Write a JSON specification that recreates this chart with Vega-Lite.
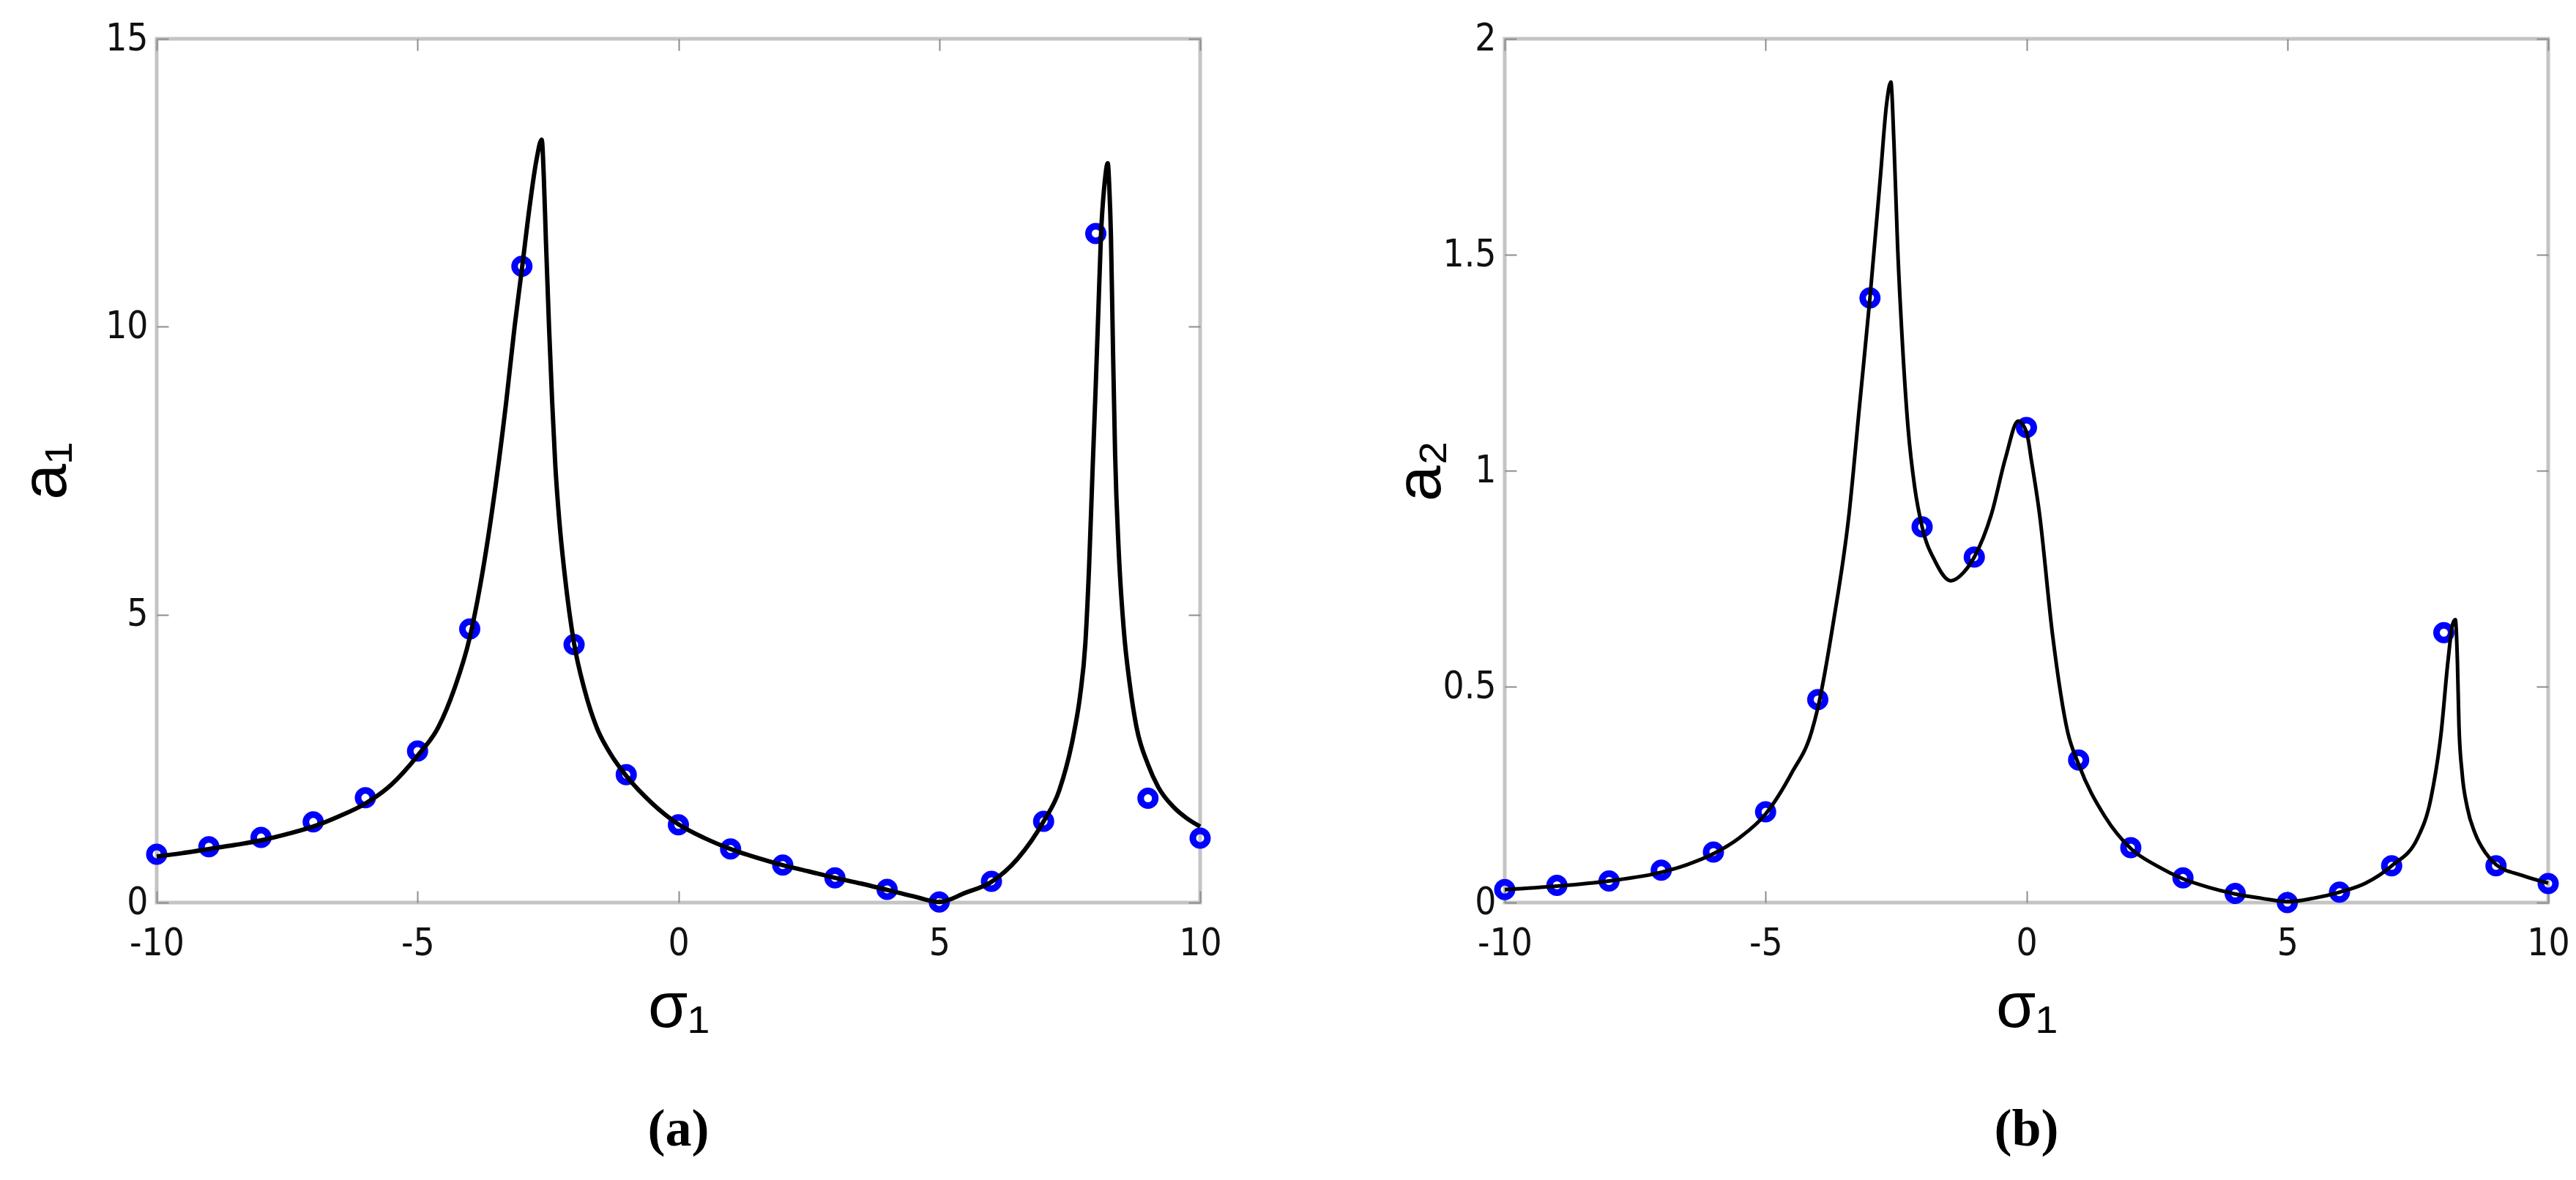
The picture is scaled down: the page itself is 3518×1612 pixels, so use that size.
{
  "$schema": "https://vega.github.io/schema/vega-lite/v6.json",
  "background": "white",
  "padding": {"left": 17, "top": 24, "right": 0, "bottom": 0},
  "bounds": "flush",
  "spacing": 416,
  "config": {
    "view": {"stroke": "#c4c4c4", "strokeWidth": 5},
    "axis": {
      "domain": false,
      "grid": false,
      "tickColor": "#8c8c8c",
      "tickWidth": 2,
      "tickSize": -16,
      "labelFont": "Liberation Sans Narrow, DejaVu Sans Condensed, Liberation Sans, sans-serif",
      "labelFontSize": 51,
      "labelColor": "#111111",
      "labelFlush": false,
      "labelOverlap": false,
      "labelBound": false,
      "titleFont": "Liberation Sans, DejaVu Sans, sans-serif",
      "titleFontSize": 88,
      "titleFontWeight": "normal",
      "titleColor": "#000000"
    }
  },
  "datasets": {
    "curve1": [
      {"sigma": -10, "a": 0.80}, {"sigma": -9.5, "a": 0.86}, {"sigma": -9, "a": 0.93}, {"sigma": -8.5, "a": 1.0},
      {"sigma": -8, "a": 1.08}, {"sigma": -7.5, "a": 1.19}, {"sigma": -7, "a": 1.32}, {"sigma": -6.5, "a": 1.5},
      {"sigma": -6, "a": 1.72}, {"sigma": -5.5, "a": 2.05}, {"sigma": -5, "a": 2.55}, {"sigma": -4.6, "a": 3.05},
      {"sigma": -4.3, "a": 3.7}, {"sigma": -4, "a": 4.6}, {"sigma": -3.8, "a": 5.5}, {"sigma": -3.58, "a": 6.75},
      {"sigma": -3.3, "a": 8.7}, {"sigma": -3.14, "a": 10.0}, {"sigma": -3.0, "a": 11.0}, {"sigma": -2.85, "a": 12.1},
      {"sigma": -2.72, "a": 12.9}, {"sigma": -2.62, "a": 13.25}, {"sigma": -2.58, "a": 12.6}, {"sigma": -2.54, "a": 11.5},
      {"sigma": -2.48, "a": 10.0}, {"sigma": -2.42, "a": 8.7}, {"sigma": -2.36, "a": 7.6}, {"sigma": -2.28, "a": 6.6},
      {"sigma": -2.18, "a": 5.7}, {"sigma": -2.0, "a": 4.5}, {"sigma": -1.8, "a": 3.7}, {"sigma": -1.57, "a": 3.05},
      {"sigma": -1.3, "a": 2.58}, {"sigma": -1.0, "a": 2.2}, {"sigma": -0.5, "a": 1.72}, {"sigma": 0, "a": 1.36},
      {"sigma": 0.5, "a": 1.12}, {"sigma": 1, "a": 0.93}, {"sigma": 1.5, "a": 0.78}, {"sigma": 2, "a": 0.65},
      {"sigma": 2.5, "a": 0.54}, {"sigma": 3, "a": 0.43}, {"sigma": 3.5, "a": 0.33}, {"sigma": 4, "a": 0.22},
      {"sigma": 4.5, "a": 0.11}, {"sigma": 5, "a": 0.01}, {"sigma": 5.5, "a": 0.17}, {"sigma": 6, "a": 0.36},
      {"sigma": 6.5, "a": 0.76}, {"sigma": 7, "a": 1.41}, {"sigma": 7.3, "a": 1.95}, {"sigma": 7.58, "a": 2.94},
      {"sigma": 7.7, "a": 3.6}, {"sigma": 7.8, "a": 4.5}, {"sigma": 7.87, "a": 5.8}, {"sigma": 7.94, "a": 7.55},
      {"sigma": 8.0, "a": 9.0}, {"sigma": 8.05, "a": 10.3}, {"sigma": 8.1, "a": 11.6}, {"sigma": 8.17, "a": 12.5},
      {"sigma": 8.23, "a": 12.84}, {"sigma": 8.26, "a": 12.4}, {"sigma": 8.29, "a": 11.6}, {"sigma": 8.33, "a": 9.6},
      {"sigma": 8.37, "a": 7.8}, {"sigma": 8.44, "a": 6.1}, {"sigma": 8.54, "a": 4.7}, {"sigma": 8.65, "a": 3.8},
      {"sigma": 8.78, "a": 3.05}, {"sigma": 9.0, "a": 2.4}, {"sigma": 9.2, "a": 2.0}, {"sigma": 9.5, "a": 1.65},
      {"sigma": 9.75, "a": 1.46}, {"sigma": 10, "a": 1.32}
    ],
    "pts1": [
      {"sigma": -10, "a": 0.84}, {"sigma": -9, "a": 0.97}, {"sigma": -8, "a": 1.13}, {"sigma": -7, "a": 1.40},
      {"sigma": -6, "a": 1.82}, {"sigma": -5, "a": 2.63}, {"sigma": -4, "a": 4.75}, {"sigma": -3, "a": 11.05},
      {"sigma": -2, "a": 4.48}, {"sigma": -1, "a": 2.22}, {"sigma": 0, "a": 1.35}, {"sigma": 1, "a": 0.93},
      {"sigma": 2, "a": 0.65}, {"sigma": 3, "a": 0.43}, {"sigma": 4, "a": 0.23}, {"sigma": 5, "a": 0.01},
      {"sigma": 6, "a": 0.37}, {"sigma": 7, "a": 1.41}, {"sigma": 8, "a": 11.62}, {"sigma": 9, "a": 1.81},
      {"sigma": 10, "a": 1.12}
    ],
    "curve2": [
      {"sigma": -10, "a": 0.03}, {"sigma": -9, "a": 0.038}, {"sigma": -8, "a": 0.05}, {"sigma": -7, "a": 0.07},
      {"sigma": -6.5, "a": 0.088}, {"sigma": -6, "a": 0.113}, {"sigma": -5.5, "a": 0.15}, {"sigma": -5, "a": 0.205},
      {"sigma": -4.5, "a": 0.3}, {"sigma": -4.12, "a": 0.395}, {"sigma": -4, "a": 0.45}, {"sigma": -3.7, "a": 0.65},
      {"sigma": -3.4, "a": 0.9}, {"sigma": -3.2, "a": 1.15}, {"sigma": -3, "a": 1.4}, {"sigma": -2.8, "a": 1.68},
      {"sigma": -2.68, "a": 1.85}, {"sigma": -2.6, "a": 1.9}, {"sigma": -2.54, "a": 1.76}, {"sigma": -2.47, "a": 1.52},
      {"sigma": -2.38, "a": 1.3}, {"sigma": -2.27, "a": 1.1}, {"sigma": -2.14, "a": 0.96}, {"sigma": -2.0, "a": 0.87},
      {"sigma": -1.75, "a": 0.79}, {"sigma": -1.45, "a": 0.745}, {"sigma": -1.2, "a": 0.765}, {"sigma": -1.0, "a": 0.8},
      {"sigma": -0.67, "a": 0.9}, {"sigma": -0.4, "a": 1.03}, {"sigma": -0.16, "a": 1.115}, {"sigma": 0, "a": 1.09},
      {"sigma": 0.1, "a": 1.02}, {"sigma": 0.25, "a": 0.9}, {"sigma": 0.5, "a": 0.62}, {"sigma": 0.79, "a": 0.395},
      {"sigma": 1, "a": 0.32}, {"sigma": 1.5, "a": 0.2}, {"sigma": 2, "a": 0.125}, {"sigma": 2.5, "a": 0.085},
      {"sigma": 3, "a": 0.055}, {"sigma": 3.5, "a": 0.035}, {"sigma": 4, "a": 0.02}, {"sigma": 4.5, "a": 0.01},
      {"sigma": 5, "a": 0.002}, {"sigma": 5.5, "a": 0.01}, {"sigma": 6, "a": 0.024}, {"sigma": 6.5, "a": 0.045},
      {"sigma": 7, "a": 0.085}, {"sigma": 7.5, "a": 0.15}, {"sigma": 7.75, "a": 0.24}, {"sigma": 7.95, "a": 0.395},
      {"sigma": 8.08, "a": 0.56}, {"sigma": 8.17, "a": 0.645}, {"sigma": 8.22, "a": 0.655}, {"sigma": 8.26, "a": 0.56},
      {"sigma": 8.29, "a": 0.41}, {"sigma": 8.35, "a": 0.3}, {"sigma": 8.45, "a": 0.22}, {"sigma": 8.6, "a": 0.16},
      {"sigma": 8.8, "a": 0.115}, {"sigma": 9, "a": 0.088}, {"sigma": 9.5, "a": 0.063}, {"sigma": 10, "a": 0.045}
    ],
    "pts2": [
      {"sigma": -10, "a": 0.03}, {"sigma": -9, "a": 0.04}, {"sigma": -8, "a": 0.05}, {"sigma": -7, "a": 0.075},
      {"sigma": -6, "a": 0.117}, {"sigma": -5, "a": 0.21}, {"sigma": -4, "a": 0.47}, {"sigma": -3, "a": 1.40},
      {"sigma": -2, "a": 0.87}, {"sigma": -1, "a": 0.80}, {"sigma": 0, "a": 1.10}, {"sigma": 1, "a": 0.33},
      {"sigma": 2, "a": 0.127}, {"sigma": 3, "a": 0.057}, {"sigma": 4, "a": 0.021}, {"sigma": 5, "a": 0.0},
      {"sigma": 6, "a": 0.024}, {"sigma": 7, "a": 0.085}, {"sigma": 8, "a": 0.625}, {"sigma": 9, "a": 0.085},
      {"sigma": 10, "a": 0.044}
    ]
  },
  "hconcat": [
    {
      "width": 1425,
      "height": 1180,
      "title": {"text": "(a)", "orient": "bottom", "anchor": "middle", "font": "Liberation Serif, DejaVu Serif, serif", "fontSize": 72, "fontWeight": "bold", "color": "#000000", "offset": 88},
      "layer": [
        {
          "data": {"name": "pts1"},
          "mark": {"type": "point", "shape": "circle", "filled": false, "color": "#0000ff", "strokeWidth": 9, "size": 400, "opacity": 1},
          "encoding": {
            "x": {"field": "sigma", "type": "quantitative", "scale": {"domain": [-10, 10], "nice": false, "zero": false},
                  "axis": {"orient": "bottom", "values": [-10, -5, 0, 5, 10], "labelExpr": "'' + datum.value", "labelPadding": 47, "title": "σ₁", "titlePadding": 18}},
            "y": {"field": "a", "type": "quantitative", "scale": {"domain": [0, 15], "nice": false, "zero": false},
                  "axis": {"orient": "left", "values": [0, 5, 10, 15], "labelExpr": "'' + datum.value", "labelPadding": 28, "title": "a₁", "titlePadding": 36}}
          }
        },
        {
          "data": {"name": "curve1"},
          "mark": {"type": "line", "color": "#000000", "strokeWidth": 6, "interpolate": "monotone"},
          "encoding": {
            "x": {"field": "sigma", "type": "quantitative", "scale": {"domain": [-10, 10], "nice": false, "zero": false},
                  "axis": {"orient": "top", "values": [-10, -5, 0, 5, 10], "labels": false, "title": null}},
            "y": {"field": "a", "type": "quantitative", "scale": {"domain": [0, 15], "nice": false, "zero": false},
                  "axis": {"orient": "right", "values": [0, 5, 10, 15], "labels": false, "title": null}}
          }
        }
      ],
      "resolve": {"axis": {"x": "independent", "y": "independent"}}
    },
    {
      "width": 1425,
      "height": 1180,
      "title": {"text": "(b)", "orient": "bottom", "anchor": "middle", "font": "Liberation Serif, DejaVu Serif, serif", "fontSize": 72, "fontWeight": "bold", "color": "#000000", "offset": 88},
      "layer": [
        {
          "data": {"name": "pts2"},
          "mark": {"type": "point", "shape": "circle", "filled": false, "color": "#0000ff", "strokeWidth": 9, "size": 400, "opacity": 1},
          "encoding": {
            "x": {"field": "sigma", "type": "quantitative", "scale": {"domain": [-10, 10], "nice": false, "zero": false},
                  "axis": {"orient": "bottom", "values": [-10, -5, 0, 5, 10], "labelExpr": "'' + datum.value", "labelPadding": 47, "title": "σ₁", "titlePadding": 18}},
            "y": {"field": "a", "type": "quantitative", "scale": {"domain": [0, 2], "nice": false, "zero": false},
                  "axis": {"orient": "left", "values": [0, 0.5, 1, 1.5, 2], "labelExpr": "'' + datum.value", "labelPadding": 28, "title": "a₂", "titlePadding": -14}}
          }
        },
        {
          "data": {"name": "curve2"},
          "mark": {"type": "line", "color": "#000000", "strokeWidth": 5, "interpolate": "monotone"},
          "encoding": {
            "x": {"field": "sigma", "type": "quantitative", "scale": {"domain": [-10, 10], "nice": false, "zero": false},
                  "axis": {"orient": "top", "values": [-10, -5, 0, 5, 10], "labels": false, "title": null}},
            "y": {"field": "a", "type": "quantitative", "scale": {"domain": [0, 2], "nice": false, "zero": false},
                  "axis": {"orient": "right", "values": [0, 0.5, 1, 1.5, 2], "labels": false, "title": null}}
          }
        }
      ],
      "resolve": {"axis": {"x": "independent", "y": "independent"}}
    }
  ]
}
